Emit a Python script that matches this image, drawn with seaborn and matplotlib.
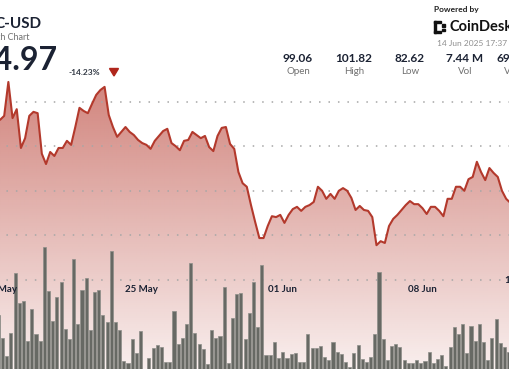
import numpy as np
import pandas as pd
import matplotlib
matplotlib.use("Agg")
import matplotlib.pyplot as plt
from matplotlib.patches import Polygon, Rectangle
import seaborn as sns

W, H = 510, 369

# 5 hour candles, price sampled at candle close, volume per candle
price_start = "2025-05-17 23:00"
volume_start = "2025-05-17 21:00"
candle_freq = "5h"

price = [115.9, 116.8, 124.4, 116.3, 118.3, 109.6, 111.8, 116.8, 117.7, 117.4,
         108.3, 106.0, 108.7, 107.8, 109.6, 109.6, 111.2, 110.3, 114.3, 118.6,
         117.9, 117.4, 119.5, 121.5, 122.6, 123.3, 117.0, 114.3, 112.1, 113.2,
         114.3, 113.2, 112.5, 111.4, 110.7, 110.3, 109.4, 111.2, 112.3, 113.4,
         113.9, 110.7, 110.0, 109.1, 111.2, 111.4, 113.2, 112.5, 111.8, 112.3,
         109.8, 108.9, 112.3, 114.1, 114.3, 110.5, 109.4, 104.2, 101.7, 100.9,
         96.8, 93.0, 89.4, 89.4, 92.1, 94.3, 94.1, 94.6, 92.8, 94.6,
         95.9, 96.4, 95.5, 96.4, 96.8, 97.5, 100.9, 100.0, 98.2, 99.3,
         98.2, 100.0, 100.6, 100.0, 98.4, 95.7, 96.6, 95.7, 95.5, 94.1,
         87.8, 88.7, 88.3, 92.1, 93.7, 94.6, 95.7, 96.8, 97.7, 97.0,
         97.0, 96.1, 94.8, 96.4, 96.4, 95.5, 94.3, 98.2, 98.2, 100.9,
         100.9, 100.0, 102.6, 103.1, 106.5, 104.2, 102.4, 105.1, 104.0, 103.1,
         100.0, 98.2, 97.3]

volume = [54, 31, 13, 36, 96, 66, 68, 28, 60, 35,
          28, 122, 78, 48, 72, 87, 40, 30, 110, 45,
          79, 91, 39, 77, 79, 54, 47, 118, 47, 39,
          8, 6, 30, 16, 38, 0, 11, 21, 24, 22,
          7, 7, 58, 25, 31, 45, 106, 36, 25, 20,
          5, 39, 31, 33, 82, 6, 51, 75, 76, 30,
          56, 87, 42, 104, 14, 14, 27, 11, 17, 11,
          15, 16, 7, 7, 35, 21, 21, 23, 12, 9,
          27, 17, 15, 7, 2, 16, 24, 10, 7, 12,
          35, 97, 30, 9, 23, 25, 22, 9, 6, 6,
          9, 6, 8, 17, 6, 10, 14, 3, 22, 42,
          35, 45, 16, 43, 28, 45, 27, 9, 31, 50,
          26, 22, 17]

tick_dates = ["2025-05-18", "2025-05-25", "2025-06-01", "2025-06-08"]
tick_labels = ["18 May", "25 May", "01 Jun", "08 Jun"]
grid_levels = [80, 90, 100, 110, 120]

stat_values = ["99.06", "101.82", "82.62", "7.44 M"]
stat_names = ["Open", "High", "Low", "Vol"]

origin = pd.Timestamp("2025-05-18")
to_hours = lambda ts: (ts - origin) / pd.Timedelta("1h")
price_t = to_hours(pd.date_range(price_start, periods=len(price), freq=candle_freq))
vol_t = to_hours(pd.date_range(volume_start, periods=len(volume), freq=candle_freq))
tick_t = to_hours(pd.to_datetime(tick_dates))

df_price = pd.DataFrame({"t": price_t, "price": price})
df_vol = pd.DataFrame({"t": vol_t, "volume": volume})

sns.set_theme(style="white")
plt.rcParams["font.family"] = ["Lato", "DejaVu Sans"]

DARK = "#1b2233"
GREY = "#707070"
RED = "#b3392c"

XLIM = (-1.0, 608.6)
YLIM = (60.04, 142.78)

fig = plt.figure(figsize=(W / 100, H / 100), dpi=100)
fig.patch.set_facecolor("white")

# background: gradient area + dotted grid
ax = fig.add_axes([0, 0, 1, 1])
ax.set_xlim(*XLIM)
ax.set_ylim(*YLIM)
ax.axis("off")

rows = np.arange(H)
alpha = np.clip(0.62 - 0.54 * (rows - 80) / 289, 0.08, 0.66)
rgb = np.array([181, 56, 44]) / 255
img = np.ones((H, 2, 4))
img[:, :, :3] = rgb
img[:, :, 3] = alpha[:, None]
im = ax.imshow(img, extent=[XLIM[0], XLIM[1], YLIM[0], YLIM[1]], aspect="auto",
               origin="upper", zorder=0, interpolation="bilinear")
verts = [(price_t[0], YLIM[0])] + list(zip(price_t, price)) + [(price_t[-1], YLIM[0])]
clip = Polygon(verts, closed=True, transform=ax.transData, facecolor="none", edgecolor="none")
ax.add_patch(clip)
im.set_clip_path(clip)

for g in grid_levels:
    ax.axhline(g, color="#a6a6a6", lw=1.1, ls=(2, (1, 5.2)), zorder=1)

# volume bars
ax_vol = fig.add_axes([0, 0, 1, 1], facecolor="none")
sns.barplot(data=df_vol, x="t", y="volume", native_scale=True, width=0.74,
            color="#676964", saturation=1, edgecolor="#8d8e89", linewidth=0.5,
            errorbar=None, ax=ax_vol)
ax_vol.set_xlim(*XLIM)
ax_vol.set_ylim(0, H)
ax_vol.axis("off")

# price line
ax_line = fig.add_axes([0, 0, 1, 1], facecolor="none")
sns.lineplot(data=df_price, x="t", y="price", color=RED, lw=1.5, ax=ax_line)
ax_line.set_xlim(*XLIM)
ax_line.set_ylim(*YLIM)
ax_line.axis("off")

# date axis
ax_x = fig.add_axes([0, 1 - 274 / H, 1, 0.0001], facecolor="none")
ax_x.set_xlim(*XLIM)
ax_x.set_yticks([])
for s in ax_x.spines.values():
    s.set_visible(False)
ax_x.set_xticks(tick_t)
ax_x.set_xticklabels(tick_labels)
ax_x.tick_params(axis="x", length=1.2, width=1.2, color="#a0a0a0", pad=7,
                 labelsize=7, labelcolor=DARK)
for lbl in ax_x.get_xticklabels():
    lbl.set_fontweight("bold")


def ftext(x, y, s, **kw):
    fig.text(x / W, 1 - y / H, s, **kw)


# right edge price label, mostly cropped
ftext(504.5, 280.5, "1", ha="left", va="center", fontsize=7, fontweight="bold", color=DARK)

# header
ftext(42, 23.5, "C-USD", ha="right", va="center", fontsize=11, fontweight="bold", color=DARK)
ftext(30, 37, "1 Month Chart", ha="right", va="center", fontsize=6.5, color=GREY)
ftext(58, 61, "84.97", ha="right", va="center", fontsize=23, fontweight="bold", color=DARK)
ftext(68.5, 72.5, "-14.23%", ha="left", va="center", fontsize=6, fontweight="bold", color="#333a45")
tri = Polygon([(109.5 / W, 1 - 68.5 / H), (118.5 / W, 1 - 68.5 / H), (114 / W, 1 - 76 / H)],
              closed=True, transform=fig.transFigure, color="#b0261c")
fig.patches.append(tri)

for x, v, n in zip([298, 354, 410, 465], stat_values, stat_names):
    ftext(x, 58.5, v, ha="center", va="center", fontsize=8.5, fontweight="bold", color=DARK)
    ftext(x, 71.5, n, ha="center", va="center", fontsize=7, color=GREY)
ftext(497, 58.5, "69", ha="left", va="center", fontsize=8.5, fontweight="bold", color=DARK)
ftext(504, 71.5, "V", ha="left", va="center", fontsize=7, color=GREY)

# powered by coindesk
ftext(434, 9.5, "Powered by", ha="left", va="center", fontsize=6, fontweight="bold", color="#222222")
ftext(450, 27, "CoinDesk", ha="left", va="center", fontsize=10.5, fontweight="bold", color="#111111")
ftext(437.5, 43.5, "14 Jun 2025 17:37", ha="left", va="center", fontsize=6, color="#8e8e8e")
for (x, y, w, h) in [(434, 21, 2.5, 12), (434, 21, 7, 2.3), (434, 30.7, 7, 2.3),
                     (442.5, 24, 2.5, 2.5), (442.5, 28.5, 2.5, 2.5)]:
    fig.patches.append(Rectangle((x / W, 1 - (y + h) / H), w / W, h / H,
                                 transform=fig.transFigure, color="#111111"))

fig.savefig("out.png", dpi=100)
